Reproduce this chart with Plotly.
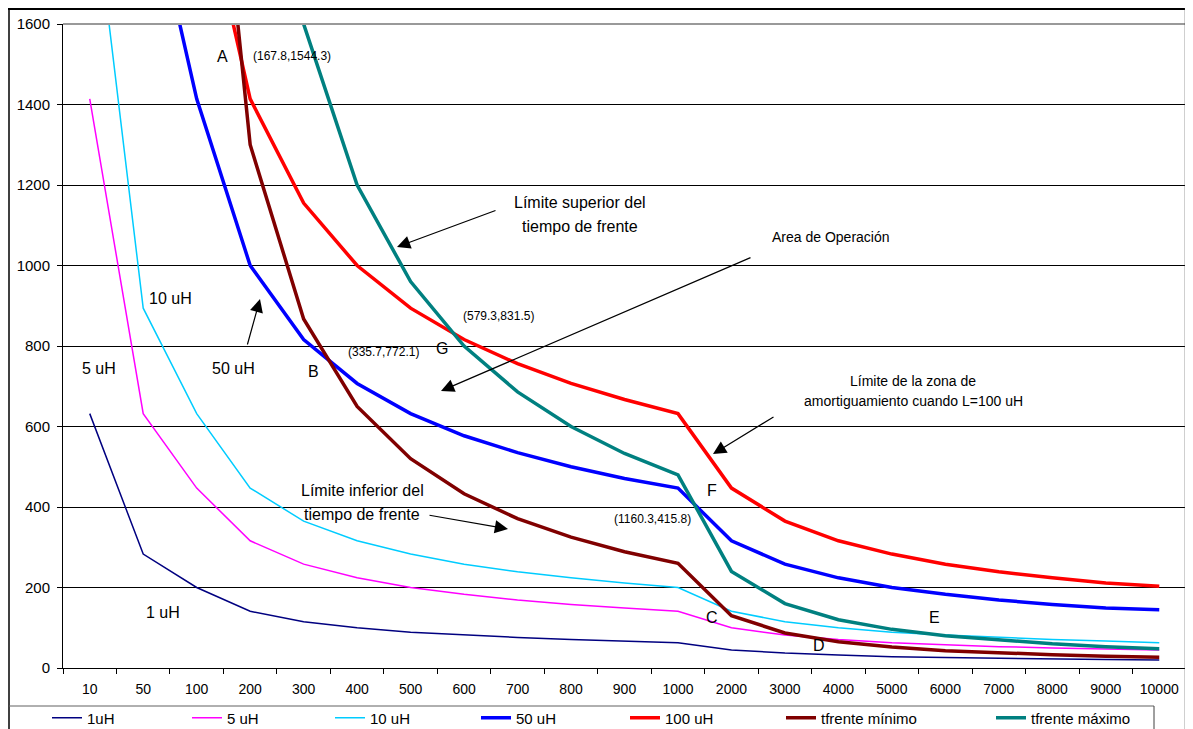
import plotly.graph_objects as go

# frequency categories (x axis) and the curves
categories = ["10", "50", "100", "200", "300", "400", "500", "600", "700", "800", "900",
              "1000", "2000", "3000", "4000", "5000", "6000", "7000", "8000", "9000", "10000"]

uh_1 = [632, 283, 200, 141, 115, 100, 89, 82, 76, 71, 67, 63, 45, 37, 32, 28, 26, 24, 22, 21, 20]
uh_5 = [1414, 632, 447, 316, 258, 224, 200, 183, 169, 158, 149, 141, 100, 82, 71, 63, 58, 53, 50, 47, 45]
uh_10 = [2000, 894, 632, 447, 365, 316, 283, 258, 239, 224, 211, 200, 141, 115, 100, 89, 82, 76, 71, 67, 63]
uh_50 = [4472, 2000, 1414, 1000, 816, 707, 632, 577, 535, 500, 471, 447, 316, 258, 224, 200, 183, 169,
         158, 149, 145]
uh_100 = [6325, 2828, 2000, 1414, 1155, 1000, 894, 816, 756, 707, 667, 632, 447, 365, 316, 283, 258,
          239, 224, 211, 203]
tfrente_min = [26000, 5200, 2600, 1300, 867, 650, 520, 433, 371, 325, 289, 260, 130, 87, 65, 52, 43,
               37, 33, 29, 27]
tfrente_max = [48000, 9600, 4800, 2400, 1600, 1200, 960, 800, 686, 600, 533, 480, 240, 160, 120, 96,
               80, 69, 60, 53, 48]

series_names = ["1uH", "5 uH", "10 uH", "50 uH", "100 uH", "tfrente mínimo", "tfrente máximo"]
series_values = [uh_1, uh_5, uh_10, uh_50, uh_100, tfrente_min, tfrente_max]
series_colors = ["#000080", "#FF00FF", "#00CCFF", "#0000FF", "#FF0000", "#800000", "#008080"]
series_widths = [1.5, 1.5, 1.5, 3.5, 3.5, 3.5, 3.5]
legend_left_px = [47, 187, 330, 476, 625, 781, 991]

FONT = "Liberation Sans, Arial, sans-serif"
# the page adds an 8px body margin, so the figure is drawn 8px smaller and
# every position below is given in screen pixels
OFF = 8
W, H = 1193 - OFF, 729 - OFF
PL, PR, PT, PB = 63, 1186, 24, 668


def paper(x, y):
    return (x - PL) / (PR - PL), (PB - y) / (PB - PT)


fig = go.Figure()

for idx, name in enumerate(series_names):
    fig.add_trace(
        go.Scatter(
            x=categories,
            y=series_values[idx],
            name=name,
            mode="lines",
            line=dict(color=series_colors[idx], width=series_widths[idx]),
            legend="legend" if idx == 0 else f"legend{idx + 1}",
        )
    )

# text labels on the plot: (text, x px, y px, size)
labels = [
    ("A", 222, 57, 16),
    ("(167.8,1544.3)", 292, 56, 12),
    ("10 uH", 170, 299, 16),
    ("5 uH", 99, 368, 16),
    ("50 uH", 233, 368, 16),
    ("B", 313, 371, 16),
    ("(335.7,772.1)", 383, 352, 12),
    ("G", 442, 349, 16),
    ("(579.3,831.5)", 498, 316, 12),
    ("1 uH", 163, 612, 16),
    ("Límite superior del", 580, 202, 16),
    ("tiempo de frente", 580, 226, 16),
    ("Area de Operación", 831, 237, 14),
    ("Límite de la zona de", 913, 381, 14),
    ("amortiguamiento cuando L=100 uH", 913, 401, 14),
    ("Límite inferior del", 362, 491, 16),
    ("tiempo de frente", 362, 514, 16),
    ("F", 712, 490, 16),
    ("(1160.3,415.8)", 652, 519, 12),
    ("C", 712, 617, 16),
    ("D", 819, 645, 16),
    ("E", 934, 617, 16),
]

annotations = []
for text, lx, ly, size in labels:
    px_, py_ = paper(lx, ly)
    annotations.append(
        dict(
            text=text, x=px_, y=py_, xref="paper", yref="paper",
            xanchor="center", yanchor="middle", showarrow=False,
            font=dict(family=FONT, size=size, color="black"),
        )
    )

# arrows: (tail x, tail y, head x, head y) in px
arrows = [
    (497, 210, 397, 247),
    (752, 257, 441, 391),
    (247, 346, 260, 299),
    (428, 515, 508, 529),
    (775, 416, 713, 454),
]
for tx, ty, hx, hy in arrows:
    ax_, ay_ = paper(hx, hy)
    annotations.append(
        dict(
            text="", x=ax_, y=ay_, xref="paper", yref="paper",
            ax=tx - hx, ay=ty - hy, showarrow=True,
            arrowhead=2, arrowsize=2.2, arrowwidth=1.2, arrowcolor="black",
        )
    )


def pline(x0, y0, x1, y1, color, width):
    a, b = paper(x0, y0)
    c, d = paper(x1, y1)
    return dict(type="line", xref="paper", yref="paper", x0=a, y0=b, x1=c, y1=d,
                line=dict(color=color, width=width), layer="above")


shapes = [
    pline(PL, PT, PR, PT, "#999999", 2),          # plot area top border
    pline(8, 9, 1187, 9, "black", 2),             # outer frame
    pline(9, 8, 9, 740, "black", 1.5),
    pline(1186, 8, 1186, 740, "#404040", 2.5),
    pline(9, 706, 1154, 706, "#606060", 1),       # legend box
    pline(1154, 706, 1154, 740, "#404040", 1),
]

layout_legends = {}
for idx, lx in enumerate(legend_left_px):
    key = "legend" if idx == 0 else f"legend{idx + 1}"
    layout_legends[key] = dict(
        x=paper(lx, 0)[0], y=paper(0, 718)[1], xanchor="left", yanchor="middle",
        orientation="h", bgcolor="rgba(0,0,0,0)", borderwidth=0,
        font=dict(family=FONT, size=15, color="black"),
    )

fig.update_layout(
    width=W,
    height=H,
    margin=dict(l=PL - OFF, r=W + OFF - PR, t=PT - OFF, b=H + OFF - PB, pad=0, autoexpand=False),
    paper_bgcolor="white",
    plot_bgcolor="white",
    font=dict(family=FONT, color="black"),
    showlegend=True,
    annotations=annotations,
    shapes=shapes,
    **layout_legends,
)

fig.update_xaxes(
    type="category",
    categoryorder="array",
    categoryarray=categories,
    range=[-0.5, len(categories) - 0.5],
    showgrid=False,
    showline=True,
    linecolor="black",
    linewidth=1,
    ticks="outside",
    tickson="boundaries",
    ticklen=5,
    tickcolor="black",
    ticklabelstandoff=8,
    tickfont=dict(family=FONT, size=14, color="black"),
    zeroline=False,
)

fig.update_yaxes(
    range=[0, 1600],
    dtick=200,
    showgrid=True,
    gridcolor="black",
    gridwidth=1,
    showline=True,
    linecolor="black",
    linewidth=1,
    ticks="outside",
    ticklen=5,
    tickcolor="black",
    ticklabelstandoff=4,
    tickfont=dict(family=FONT, size=15, color="black"),
    zeroline=False,
)

fig.write_html("out.html")
